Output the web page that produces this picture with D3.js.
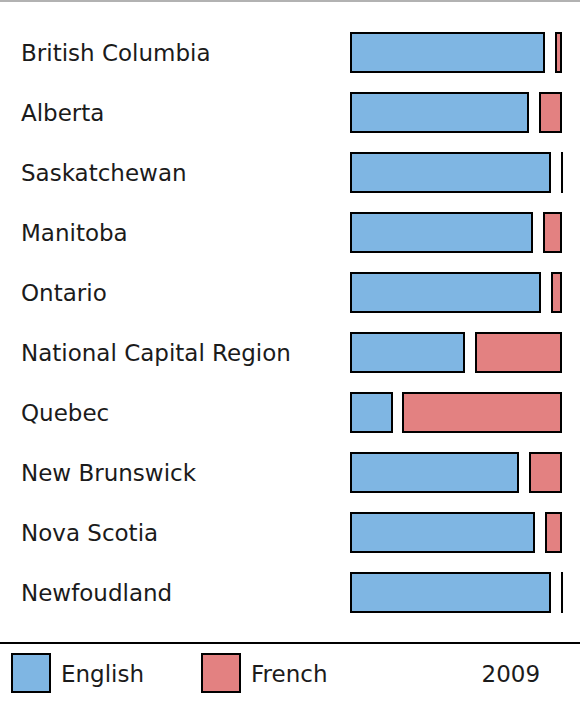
<!DOCTYPE html>
<html>
<head>
<meta charset="utf-8">
<script src="https://cdn.jsdelivr.net/npm/d3@7"></script>
<style>
  body { margin: 0; background: #fff; }
  text { font-family: "DejaVu Sans", sans-serif; fill: #1b1b1b; }
</style>
</head>
<body>
<div id="sprachen"></div>
<script>
// English / French share per region - 2009

// data
let regions = ["British Columbia", "Alberta", "Saskatchewan", "Manitoba", "Ontario",
  "National Capital Region", "Quebec", "New Brunswick", "Nova Scotia", "Newfoudland"];
let english = [96.6, 88.8, 99.7, 90.8, 94.7, 57.0, 21.2, 83.8, 91.7, 99.7];
let french  = [3.4, 11.2, 0.3, 9.2, 5.3, 43.0, 78.8, 16.2, 8.3, 0.3];
let series = ["English", "French"];
let colors = ["#7fb6e3", "#e38181"];
let year = "2009";

const width = 580, height = 702;

// append the svg object to the body of the page
let svg = d3.select("#sprachen")
  .append("svg")
    .attr("width", width)
    .attr("height", height);

// grey line on top
svg.append("line")
  .attr("x1", 0).attr("x2", width)
  .attr("y1", 1).attr("y2", 1)
  .attr("stroke", "#b2b2b2")
  .attr("stroke-width", 2);

// Y scale (rows)
let y = d3.scaleBand()
  .domain(regions)
  .range([22.5, 622.5])
  .paddingInner(0.35)
  .paddingOuter(0.175);

// X scale (share in percent)
const left = 351, gap = 9.5;
let x = d3.scaleLinear()
  .domain([0, 100])
  .range([0, 202]);

let data = regions.map(function(r, i) {
  return {region: r, en: english[i], fr: french[i]};
});

// region labels
svg.selectAll(".label")
  .data(data)
  .enter()
  .append("text")
    .attr("class", "label")
    .attr("x", 21)
    .attr("y", function(d) { return y(d.region) + y.bandwidth() / 2 + 8.5; })
    .style("font-size", "23px")
    .text(function(d) { return d.region; });

// english bars
svg.selectAll(".en")
  .data(data)
  .enter()
  .append("rect")
    .attr("class", "en")
    .attr("x", left)
    .attr("y", function(d) { return Math.round(y(d.region)); })
    .attr("width", function(d) { return Math.max(0.01, Math.round(x(d.en)) - 2); })
    .attr("height", Math.round(y.bandwidth()))
    .attr("fill", colors[0])
    .attr("stroke", "#000")
    .attr("stroke-width", 2);

// french bars (after a small gap), never quite zero so the border still shows
let frStart = function(d) { return Math.round(x(d.en) + gap); };
let frEnd = function(d) { return Math.round(x(d.en) + gap + x(d.fr)); };
svg.selectAll(".fr")
  .data(data)
  .enter()
  .append("rect")
    .attr("class", "fr")
    .attr("x", function(d) { return left + frStart(d); })
    .attr("y", function(d) { return Math.round(y(d.region)); })
    .attr("width", function(d) { return Math.max(0.01, frEnd(d) - frStart(d) - 2); })
    .attr("height", Math.round(y.bandwidth()))
    .attr("fill", colors[1])
    .attr("stroke", "#000")
    .attr("stroke-width", 2);

// legend separator
svg.append("line")
  .attr("x1", 0).attr("x2", width)
  .attr("y1", 643).attr("y2", 643)
  .attr("stroke", "#000")
  .attr("stroke-width", 2);

// legend
let legendX = [12, 202];
let legend = svg.selectAll(".legend")
  .data(series)
  .enter()
  .append("g")
    .attr("class", "legend")
    .attr("transform", function(d, i) { return `translate(${legendX[i]}, 654)`; });

legend.append("rect")
  .attr("width", 38)
  .attr("height", 38)
  .attr("fill", function(d, i) { return colors[i]; })
  .attr("stroke", "#000")
  .attr("stroke-width", 2);

legend.append("text")
  .attr("x", 49)
  .attr("y", 27.7)
  .style("font-size", "23px")
  .text(function(d) { return d; });

svg.append("text")
  .attr("x", 481.5)
  .attr("y", 681.7)
  .style("font-size", "23px")
  .text(year);
</script>
</body>
</html>
